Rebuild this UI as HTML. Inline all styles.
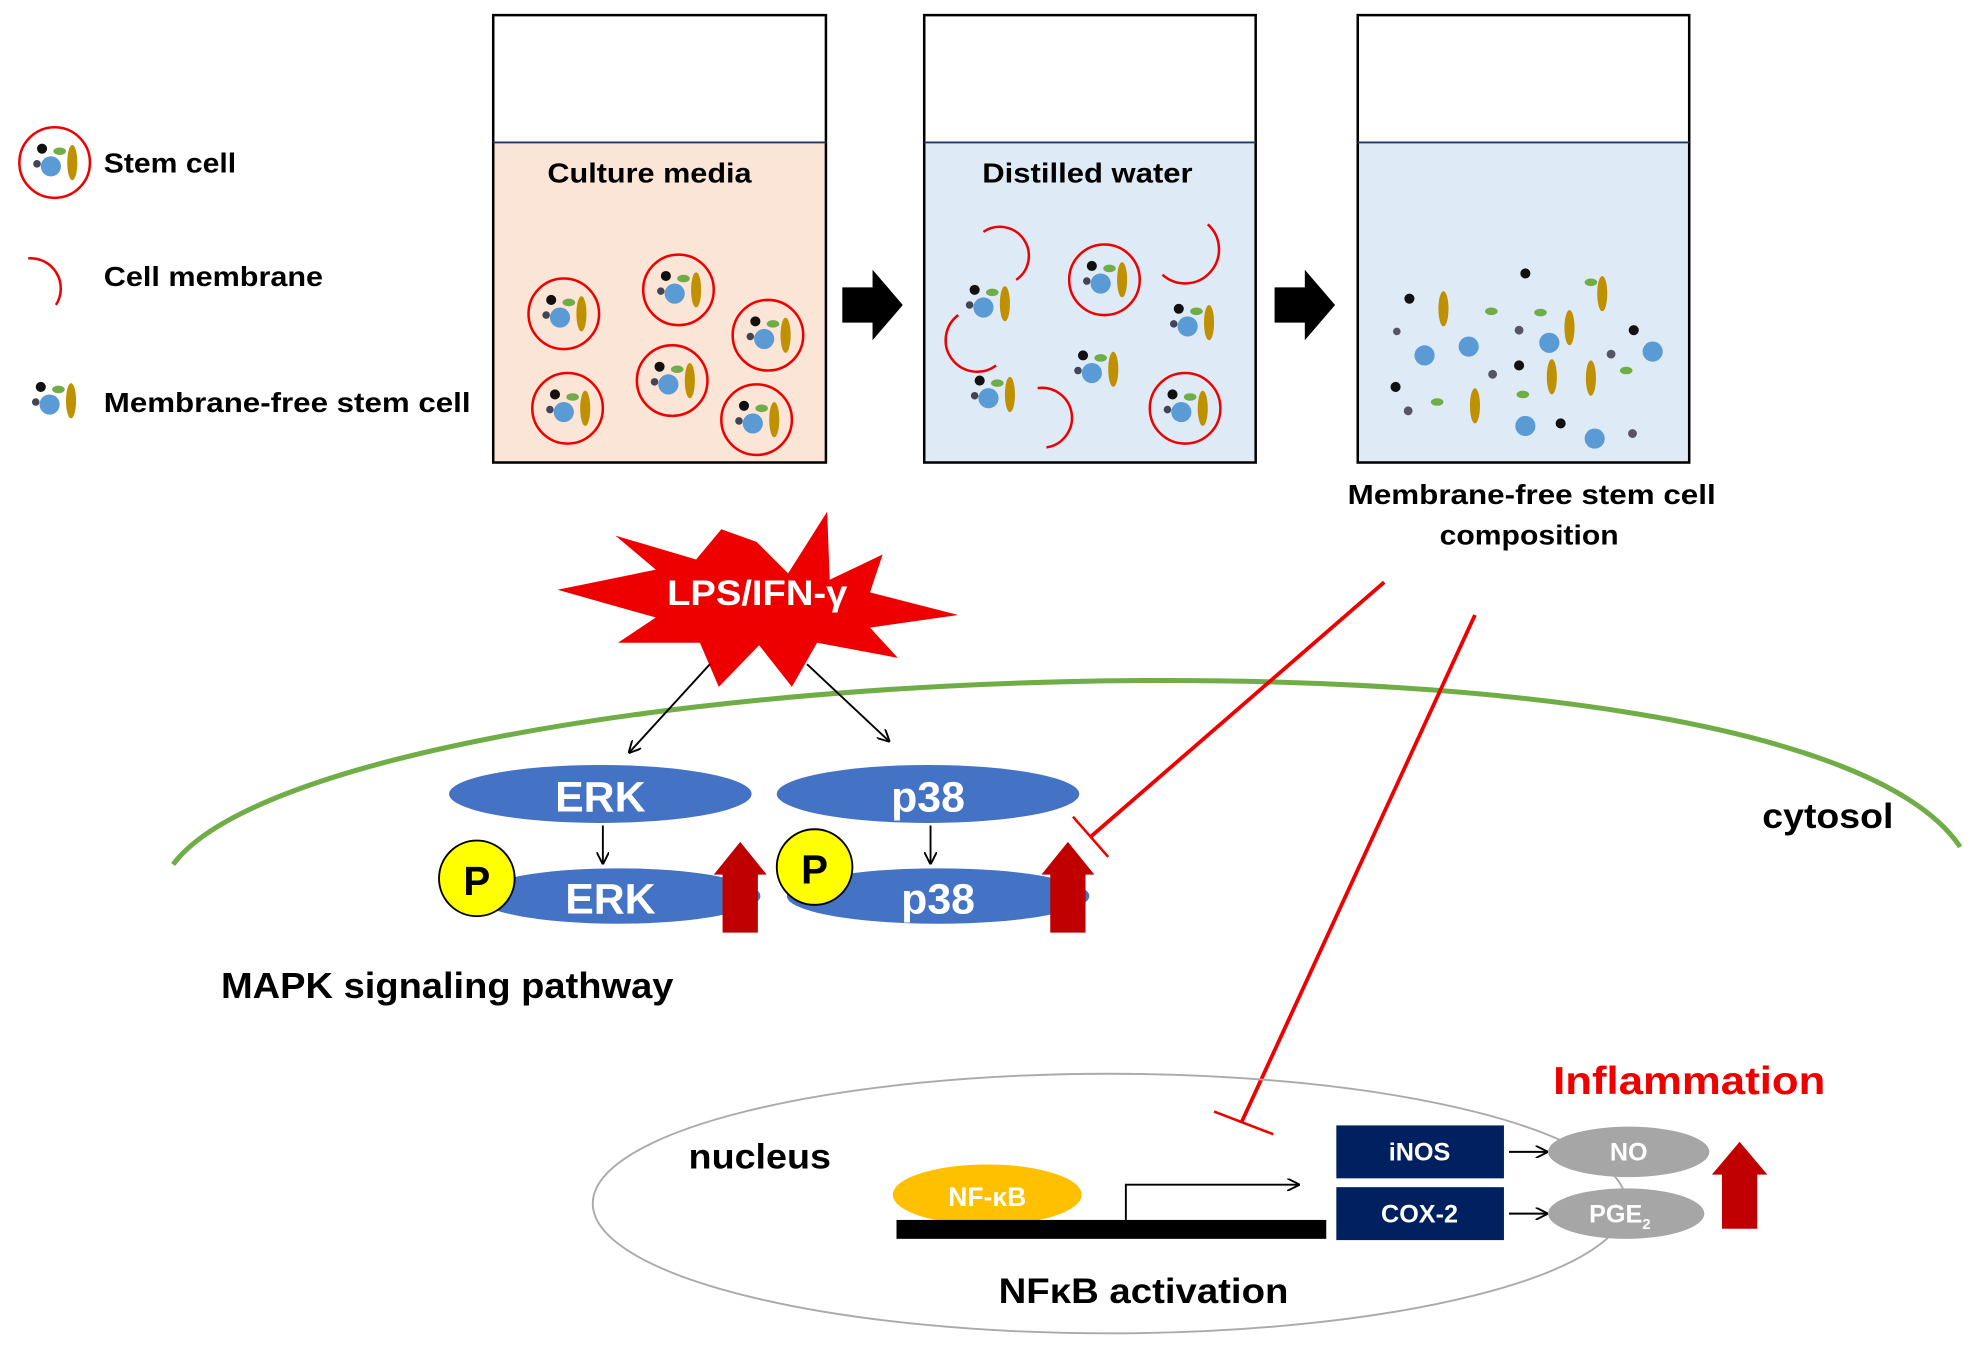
<!DOCTYPE html>
<html><head><meta charset="utf-8"><style>
html,body{margin:0;padding:0;background:#fff}
svg{display:block}
text{font-family:"Liberation Sans",sans-serif;font-weight:bold}
</style></head><body>
<svg width="1977" height="1351" viewBox="0 0 1568 1072" xmlns="http://www.w3.org/2000/svg">
<defs>
<g id="cc">
<circle cx="-10" cy="-11" r="4" fill="#111"/>
<circle cx="-14" cy="1" r="3" fill="#445"/>
<circle cx="-3" cy="3" r="8" fill="#5b9bd5"/>
<ellipse cx="4" cy="-9" rx="5" ry="3" fill="#70ad47"/>
<ellipse cx="14" cy="0" rx="4" ry="14" fill="#bf9000"/>
</g>
<g id="sc"><use href="#cc"/><circle r="28" fill="none" stroke="#e00" stroke-width="2"/></g>
<marker id="ah" markerWidth="10" markerHeight="10" refX="9" refY="5" orient="auto" markerUnits="userSpaceOnUse"><path d="M0,0 L10,5 L0,10" fill="none" stroke="#000" stroke-width="1.5"/></marker>
</defs>

<!-- legend -->
<use href="#sc" x="43" y="129"/>
<text x="82" y="137" font-size="22" textLength="105" lengthAdjust="spacingAndGlyphs">Stem cell</text>
<path d="M22,205 A24,24 0 0 1 44,242" fill="none" stroke="#e00" stroke-width="2"/>
<text x="82" y="227" font-size="22" textLength="174" lengthAdjust="spacingAndGlyphs">Cell membrane</text>
<use href="#cc" x="42" y="318"/>
<text x="82" y="327" font-size="22" textLength="291" lengthAdjust="spacingAndGlyphs">Membrane-free stem cell</text>

<!-- beakers -->
<rect x="391" y="113" width="264" height="254" fill="#fbe5d6"/>
<rect x="391" y="12" width="264" height="355" fill="none" stroke="#000" stroke-width="2"/>
<line x1="391" y1="113" x2="655" y2="113" stroke="#1f3864" stroke-width="1.5"/>
<text x="434" y="145" font-size="22" textLength="162" lengthAdjust="spacingAndGlyphs">Culture media</text>

<rect x="733" y="113" width="263" height="254" fill="#deebf7"/>
<rect x="733" y="12" width="263" height="355" fill="none" stroke="#000" stroke-width="2"/>
<line x1="733" y1="113" x2="996" y2="113" stroke="#1f3864" stroke-width="1.5"/>
<text x="779" y="145" font-size="22" textLength="167" lengthAdjust="spacingAndGlyphs">Distilled water</text>

<rect x="1077" y="113" width="263" height="254" fill="#deebf7"/>
<rect x="1077" y="12" width="263" height="355" fill="none" stroke="#000" stroke-width="2"/>
<line x1="1077" y1="113" x2="1340" y2="113" stroke="#1f3864" stroke-width="1.5"/>

<use href="#sc" x="447" y="249"/><use href="#sc" x="538" y="230"/><use href="#sc" x="609" y="266"/>
<use href="#sc" x="450" y="324"/><use href="#sc" x="533" y="302"/><use href="#sc" x="600" y="333"/>

<use href="#sc" x="876" y="222"/><use href="#sc" x="940" y="324"/>
<use href="#cc" x="783" y="241"/><use href="#cc" x="945" y="256"/><use href="#cc" x="869" y="293"/><use href="#cc" x="787" y="313"/>
<g fill="none" stroke="#e00" stroke-width="2">
<path d="M780,184 A22,22 0 0 1 806,222"/>
<path d="M760,250 A22,22 0 0 0 790,290"/>
<path d="M958,178 A22,22 0 0 1 922,218"/>
<path d="M823,308 A22,22 0 0 1 830,355"/>
</g>

<g>
<circle cx="1210" cy="217" r="4" fill="#111"/><circle cx="1118" cy="237" r="4" fill="#111"/>
<circle cx="1296" cy="262" r="4" fill="#111"/><circle cx="1205" cy="290" r="4" fill="#111"/>
<circle cx="1107" cy="307" r="4" fill="#111"/><circle cx="1238" cy="336" r="4" fill="#111"/>
<circle cx="1108" cy="263" r="3" fill="#556"/><circle cx="1278" cy="281" r="3.5" fill="#556"/>
<circle cx="1184" cy="297" r="3.5" fill="#556"/><circle cx="1117" cy="326" r="3.5" fill="#556"/>
<circle cx="1295" cy="344" r="3.5" fill="#556"/><circle cx="1205" cy="262" r="3.5" fill="#556"/>
<circle cx="1130" cy="282" r="8" fill="#5b9bd5"/><circle cx="1165" cy="275" r="8" fill="#5b9bd5"/>
<circle cx="1229" cy="272" r="8" fill="#5b9bd5"/><circle cx="1311" cy="279" r="8" fill="#5b9bd5"/>
<circle cx="1210" cy="338" r="8" fill="#5b9bd5"/><circle cx="1265" cy="348" r="8" fill="#5b9bd5"/>
<ellipse cx="1183" cy="247" rx="5" ry="3" fill="#70ad47"/><ellipse cx="1222" cy="248" rx="5" ry="3" fill="#70ad47"/>
<ellipse cx="1262" cy="224" rx="5" ry="3" fill="#70ad47"/><ellipse cx="1290" cy="294" rx="5" ry="3" fill="#70ad47"/>
<ellipse cx="1208" cy="313" rx="5" ry="3" fill="#70ad47"/><ellipse cx="1140" cy="319" rx="5" ry="3" fill="#70ad47"/>
<ellipse cx="1145" cy="245" rx="4" ry="14" fill="#bf9000"/><ellipse cx="1271" cy="233" rx="4" ry="14" fill="#bf9000"/>
<ellipse cx="1245" cy="260" rx="4" ry="14" fill="#bf9000"/><ellipse cx="1231" cy="299" rx="4" ry="14" fill="#bf9000"/>
<ellipse cx="1262" cy="300" rx="4" ry="14" fill="#bf9000"/><ellipse cx="1170" cy="322" rx="4" ry="14" fill="#bf9000"/>
</g>

<path d="M668,228 L692,228 L692,214 L716,242 L692,270 L692,256 L668,256 Z" fill="#000"/>
<path d="M1011,228 L1035,228 L1035,214 L1059,242 L1035,270 L1035,256 L1011,256 Z" fill="#000"/>

<text x="1069" y="400" font-size="22" textLength="292" lengthAdjust="spacingAndGlyphs">Membrane-free stem cell</text>
<text x="1142" y="432" font-size="22" textLength="142" lengthAdjust="spacingAndGlyphs">composition</text>

<path d="M137,686 C260,520 1420,470 1555,672" fill="none" stroke="#70ad47" stroke-width="4"/>

<polygon points="600,430 625,455 656,406 658,460 700,440 690,470 760,488 690,498 712,522 648,510 628,545 602,512 570,545 555,510 490,510 520,490 442,468 520,452 488,425 552,444 572,420" fill="#e00"/>
<text x="529" y="480" font-size="28" fill="#fff" textLength="143" lengthAdjust="spacingAndGlyphs">LPS/IFN-γ</text>

<line x1="563" y1="527" x2="499" y2="597" stroke="#000" stroke-width="1.5" marker-end="url(#ah)"/>
<line x1="640" y1="527" x2="705" y2="588" stroke="#000" stroke-width="1.5" marker-end="url(#ah)"/>

<ellipse cx="476" cy="630" rx="120" ry="23" fill="#4472c4"/>
<text x="476" y="644" font-size="34" fill="#fff" text-anchor="middle" font-weight="normal">ERK</text>
<ellipse cx="736" cy="630" rx="120" ry="23" fill="#4472c4"/>
<text x="736" y="644" font-size="34" fill="#fff" text-anchor="middle" font-weight="normal">p38</text>
<line x1="478" y1="655" x2="478" y2="685" stroke="#000" stroke-width="1.5" marker-end="url(#ah)"/>
<line x1="738" y1="655" x2="738" y2="685" stroke="#000" stroke-width="1.5" marker-end="url(#ah)"/>
<ellipse cx="490" cy="711" rx="113" ry="22" fill="#4472c4"/>
<text x="484" y="725" font-size="34" fill="#fff" text-anchor="middle" font-weight="normal">ERK</text>
<ellipse cx="744" cy="711" rx="120" ry="22" fill="#4472c4"/>
<text x="744" y="725" font-size="34" fill="#fff" text-anchor="middle" font-weight="normal">p38</text>
<circle cx="378" cy="697" r="30" fill="#ffff00" stroke="#000" stroke-width="1.5"/>
<text x="378" y="710" font-size="32" text-anchor="middle" font-weight="normal">P</text>
<circle cx="646" cy="688" r="30" fill="#ffff00" stroke="#000" stroke-width="1.5"/>
<text x="646" y="701" font-size="32" text-anchor="middle" font-weight="normal">P</text>
<path d="M573,740 L573,694 L566,694 L587,668 L608,694 L601,694 L601,740 Z" fill="#c00000"/>
<path d="M833,740 L833,694 L826,694 L847,668 L868,694 L861,694 L861,740 Z" fill="#c00000"/>

<text x="175" y="792" font-size="29" textLength="359" lengthAdjust="spacingAndGlyphs">MAPK signaling pathway</text>
<text x="1398" y="657" font-size="28" textLength="104" lengthAdjust="spacingAndGlyphs">cytosol</text>

<line x1="1098" y1="462" x2="865" y2="664" stroke="#e00" stroke-width="3"/>
<line x1="851" y1="648" x2="879" y2="680" stroke="#e00" stroke-width="2"/>
<line x1="1170" y1="488" x2="985" y2="890" stroke="#e00" stroke-width="3"/>
<line x1="963" y1="882" x2="1010" y2="900" stroke="#e00" stroke-width="2"/>

<ellipse cx="880" cy="955" rx="410" ry="103" fill="none" stroke="#aaa" stroke-width="1.5"/>
<text x="546" y="927" font-size="28" textLength="113" lengthAdjust="spacingAndGlyphs">nucleus</text>
<ellipse cx="783" cy="948" rx="75" ry="24" fill="#ffc000"/>
<text x="783" y="957" font-size="21" fill="#fff" text-anchor="middle" font-weight="normal">NF-κB</text>
<rect x="711" y="968" width="341" height="15" fill="#000"/>
<path d="M893,968 L893,940 L1030,940" fill="none" stroke="#000" stroke-width="1.5" marker-end="url(#ah)"/>
<rect x="1060" y="893" width="133" height="42" fill="#002060"/>
<text x="1126" y="921" font-size="20" fill="#fff" text-anchor="middle" font-weight="normal">iNOS</text>
<rect x="1060" y="942" width="133" height="42" fill="#002060"/>
<text x="1126" y="970" font-size="20" fill="#fff" text-anchor="middle" font-weight="normal">COX-2</text>
<line x1="1197" y1="914" x2="1227" y2="914" stroke="#000" stroke-width="1.5" marker-end="url(#ah)"/>
<line x1="1197" y1="963" x2="1227" y2="963" stroke="#000" stroke-width="1.5" marker-end="url(#ah)"/>
<ellipse cx="1292" cy="914" rx="64" ry="20" fill="#a6a6a6"/>
<text x="1292" y="921" font-size="20" fill="#fff" text-anchor="middle" font-weight="normal">NO</text>
<ellipse cx="1290" cy="963" rx="62" ry="20" fill="#a6a6a6"/>
<text x="1285" y="970" font-size="20" fill="#fff" text-anchor="middle" font-weight="normal">PGE<tspan font-size="12" dy="5">2</tspan></text>
<path d="M1366,975 L1366,932 L1358,932 L1380,906 L1402,932 L1394,932 L1394,975 Z" fill="#c00000"/>
<text x="1232" y="868" font-size="31" fill="#e00" textLength="216" lengthAdjust="spacingAndGlyphs">Inflammation</text>
<text x="792" y="1034" font-size="28" textLength="230" lengthAdjust="spacingAndGlyphs">NFκB activation</text>
</svg>
</body></html>
